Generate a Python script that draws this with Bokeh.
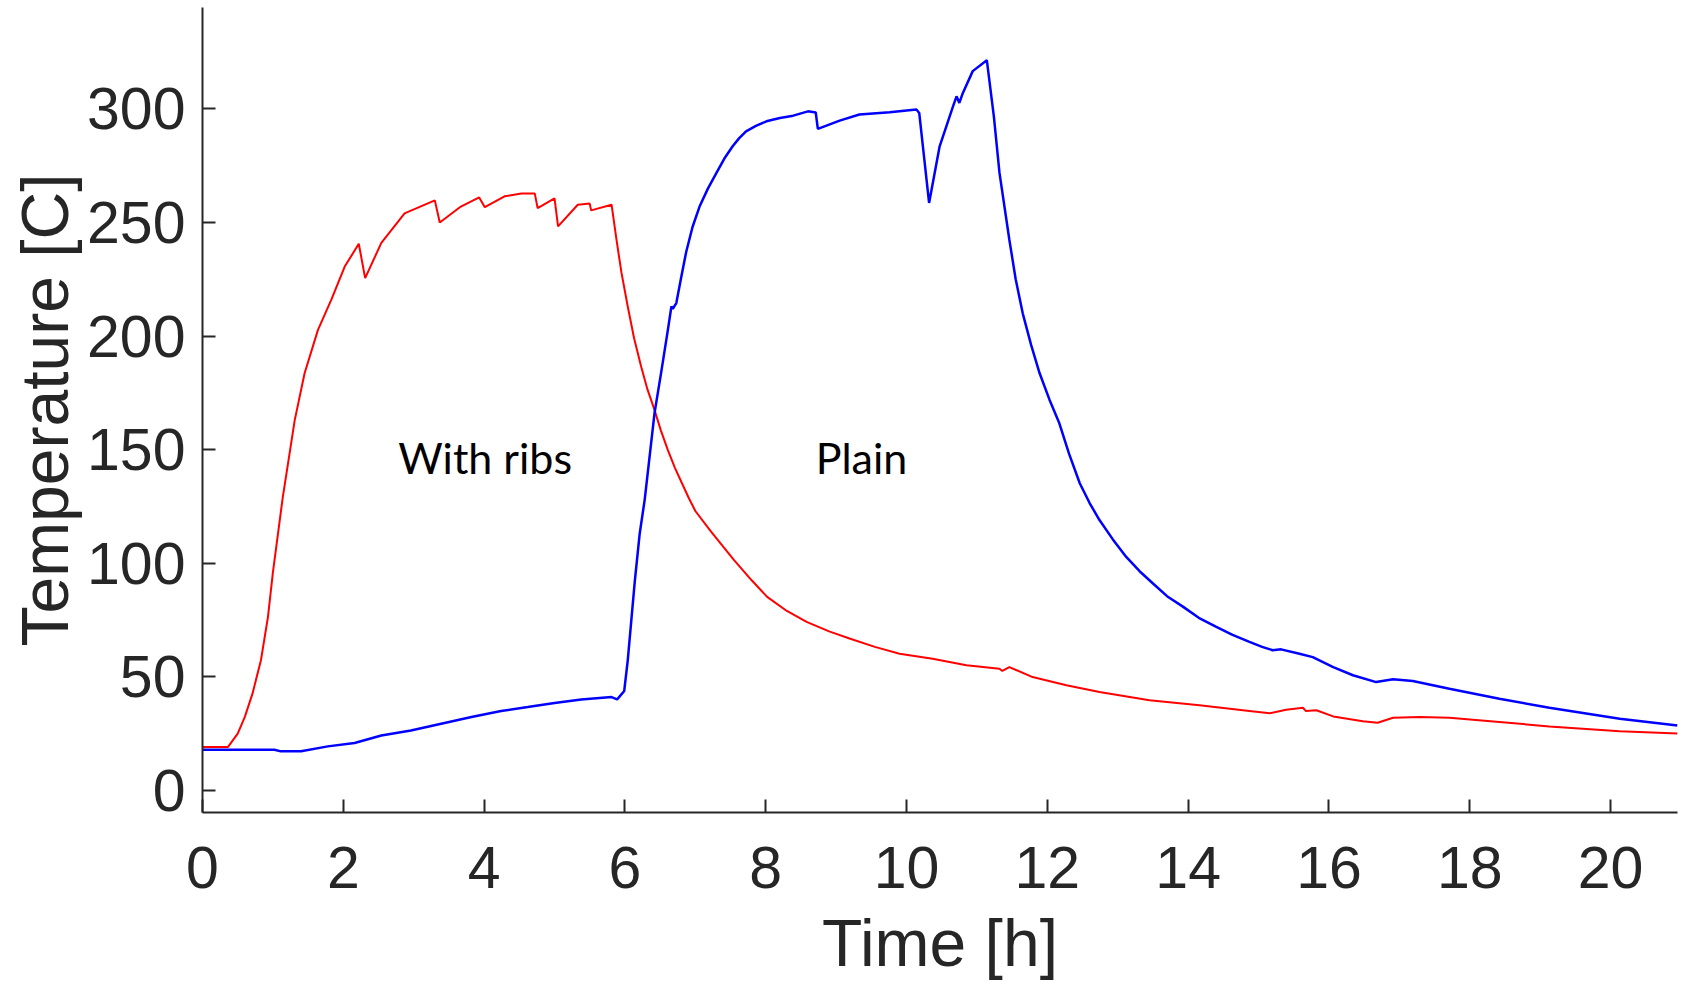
from bokeh.plotting import figure
from bokeh.models import FixedTicker, Label, Range1d
from bokeh.embed import file_html
from bokeh.resources import INLINE

# ---- data ----
ribs_time = [0, 0.36, 0.50, 0.60, 0.71, 0.83, 0.93, 1.00, 1.14, 1.31, 1.45, 1.64, 1.83,
             2.02, 2.22, 2.31, 2.54, 2.87, 3.30, 3.37, 3.67, 3.93, 4.01, 4.29, 4.53,
             4.72, 4.76, 5.00, 5.05, 5.33, 5.50, 5.52, 5.81, 5.88, 5.95, 6.04, 6.13,
             6.23, 6.32, 6.42, 6.51, 6.61, 6.71, 6.81, 6.91, 7.00, 7.22, 7.55, 7.80,
             8.02, 8.30, 8.58, 8.90, 9.19, 9.55, 9.90, 10.37, 10.85, 11.32, 11.36,
             11.46, 11.79, 12.27, 12.74, 13.45, 14.16, 14.87, 15.16, 15.39, 15.63,
             15.67, 15.82, 16.06, 16.48, 16.69, 16.91, 17.29, 17.71, 18.42, 19.13,
             20.13, 20.95]
ribs_temp = [19.1, 19.1, 25, 32.3, 42.6, 57.3, 76.4, 96, 129, 163, 183.6, 202.7, 216,
             230.6, 240.6, 225.5, 241, 254, 259.7, 250, 257, 261, 256.7, 261.5, 262.7,
             262.7, 256.3, 260.6, 248.3, 257.8, 258.3, 255.3, 257.8, 242.4, 228, 213,
             199, 186.6, 176.5, 167.5, 158.5, 149.8, 142, 135.2, 128.5, 123, 114,
             101.4, 92.5, 85.2, 79, 74.2, 70, 66.9, 63.2, 60.2, 58, 55.1, 53.6, 52.6,
             54.3, 49.9, 46.3, 43.3, 39.7, 37.5, 35, 34, 35.5, 36.4, 35.0, 35.3, 32.6,
             30.5, 29.8, 32, 32.3, 32, 30.1, 28.2, 26.1, 25.1]

plain_time = [0, 1.02, 1.10, 1.40, 1.78, 2.16, 2.54, 2.96, 3.39, 3.82, 4.24, 4.62, 5.00,
              5.38, 5.81, 5.89, 5.99, 6.04, 6.14, 6.21, 6.28, 6.42, 6.52, 6.61, 6.66,
              6.68, 6.73, 6.80, 6.87, 6.96, 7.06, 7.18, 7.30, 7.41, 7.53, 7.62, 7.72,
              7.86, 8.01, 8.20, 8.39, 8.60, 8.71, 8.74, 9.05, 9.33, 9.76, 10.14, 10.18,
              10.32, 10.47, 10.66, 10.71, 10.75, 10.80, 10.94, 11.14, 11.24, 11.32,
              11.46, 11.55, 11.65, 11.77, 11.89, 12.03, 12.17, 12.31, 12.46, 12.60,
              12.74, 12.93, 13.12, 13.31, 13.50, 13.70, 13.93, 14.15, 14.40, 14.63,
              14.87, 15.05, 15.20, 15.32, 15.58, 15.77, 16.06, 16.34, 16.67, 16.91,
              17.19, 17.71, 18.42, 19.13, 20.13, 20.95]
plain_temp = [17.9, 17.9, 17.3, 17.3, 19.4, 20.9, 24.2, 26.4, 29.4, 32.3, 35, 36.7, 38.5,
              40, 41.1, 40.1, 43.8, 57.3, 92, 113.1, 127.8, 166, 185, 202.7, 213, 212,
              214.5, 226, 237, 248, 257, 265, 271.8, 278, 283.5, 287, 290.1, 292.5,
              294.5, 296, 297, 298.9, 298.4, 291.2, 294.8, 297.5, 298.5, 299.7, 298.2,
              258.6, 283.5, 301.1, 305.5, 302.6, 307, 316.6, 321.4, 296.7, 271.8,
              242.4, 225, 210, 196, 183.6, 172, 161.6, 148, 135.2, 126.5, 119, 110.5,
              102.8, 96.5, 91.1, 85.5, 80.8, 76, 72, 68.5, 65.4, 63.2, 61.7, 62.1, 60.2,
              58.7, 54.3, 50.7, 47.7, 48.9, 48.2, 44.8, 40.4, 36.4, 31.6, 28.6]

x_ticks = [0, 2, 4, 6, 8, 10, 12, 14, 16, 18, 20]
y_ticks = [0, 50, 100, 150, 200, 250, 300]

AXIS_COLOR = "#262626"
TICK_FONT = "Liberation Sans"

p = figure(width=1685, height=985, output_backend="svg", toolbar_location=None,
           x_range=Range1d(0, 20.95), y_range=Range1d(-9.7, 344.6),
           min_border_left=202, min_border_right=8, min_border_top=7,
           min_border_bottom=173)
p.outline_line_color = None
p.grid.visible = False
p.background_fill_color = "white"
p.border_fill_color = "white"

p.line(ribs_time, ribs_temp, line_color="#ff0000", line_width=2)
p.line(plain_time, plain_temp, line_color="#0000ff", line_width=2.5)

for ax in (p.xaxis[0], p.yaxis[0]):
    ax.axis_line_color = AXIS_COLOR
    ax.axis_line_width = 2
    ax.major_tick_line_color = AXIS_COLOR
    ax.major_tick_line_width = 2
    ax.major_tick_in = 13
    ax.major_tick_out = 0
    ax.minor_tick_line_color = None
    ax.major_label_text_font = TICK_FONT
    ax.major_label_text_font_size = "59px"
    ax.major_label_text_color = AXIS_COLOR
    ax.axis_label_text_font = TICK_FONT
    ax.axis_label_text_font_size = "66px"
    ax.axis_label_text_font_style = "normal"
    ax.axis_label_text_color = AXIS_COLOR

p.xaxis.ticker = FixedTicker(ticks=x_ticks)
p.yaxis.ticker = FixedTicker(ticks=y_ticks)
p.xaxis.axis_label = "Time [h]"
p.yaxis.axis_label = "Temperature [C]"
p.xaxis.major_label_standoff = 34
p.xaxis.axis_label_standoff = 15
p.yaxis.major_label_standoff = 17
p.yaxis.axis_label_standoff = 2

p.add_layout(Label(x=2.78, y=146.4, text="With ribs", text_font="Lato",
                   text_font_size="43px", text_color="black",
                   text_align="left", text_baseline="alphabetic"))
p.add_layout(Label(x=8.71, y=146.4, text="Plain", text_font="Lato",
                   text_font_size="43px", text_color="black",
                   text_align="left", text_baseline="alphabetic"))

open("out.html", "w").write(file_html(p, INLINE))
